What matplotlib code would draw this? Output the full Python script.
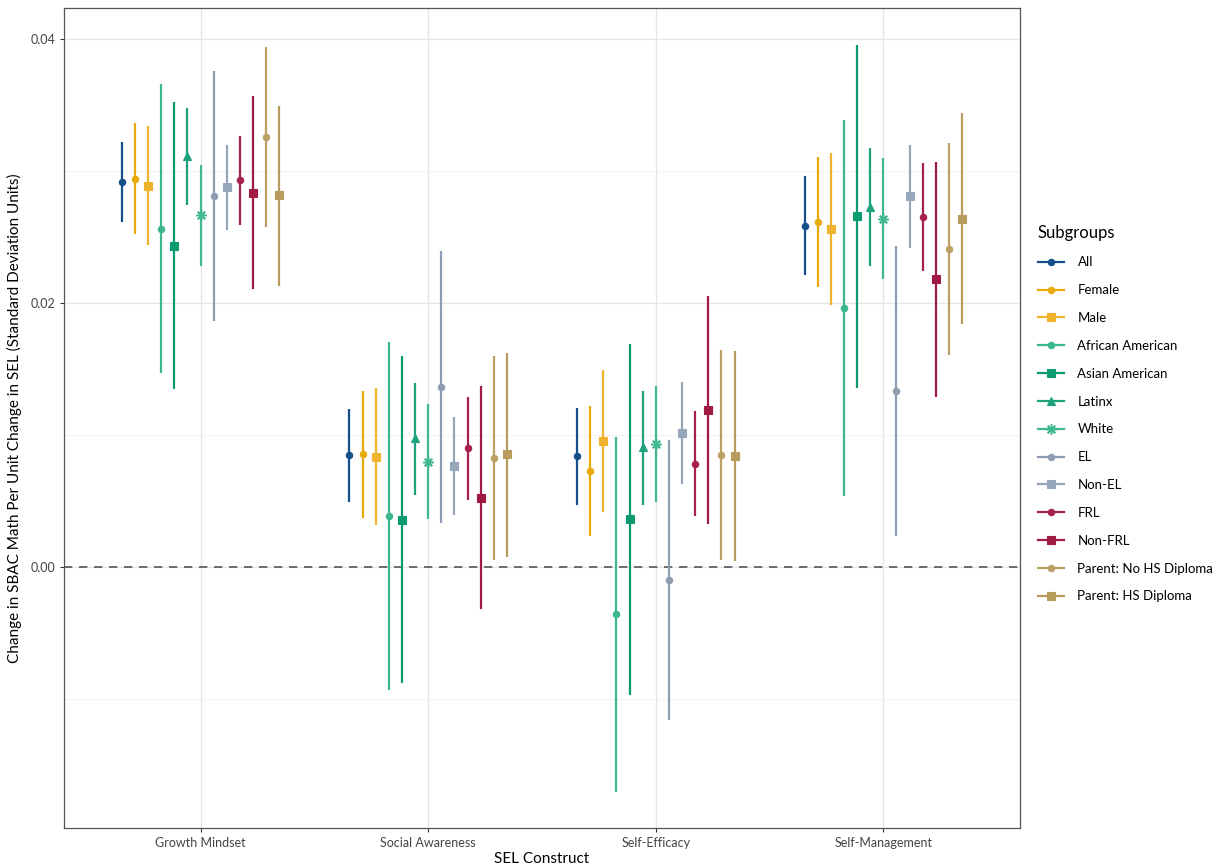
import numpy as np
import matplotlib
matplotlib.use("Agg")
import matplotlib.pyplot as plt
from matplotlib.lines import Line2D

plt.rcParams["font.family"] = ["Lato", "DejaVu Sans"]

# Data
constructs = ["Growth Mindset", "Social Awareness", "Self-Efficacy", "Self-Management"]
subgroups = ["All", "Female", "Male", "African American", "Asian American", "Latinx",
             "White", "EL", "Non-EL", "FRL", "Non-FRL", "Parent: No HS Diploma",
             "Parent: HS Diploma"]

# estimates per subgroup, one value per construct
est = {
    "All":                   [0.02917, 0.00848, 0.00842, 0.02588],
    "Female":                [0.02945, 0.00858, 0.00731, 0.02613],
    "Male":                  [0.02892, 0.00837, 0.00956, 0.02563],
    "African American":      [0.02565, 0.00387, -0.00357, 0.01966],
    "Asian American":        [0.02434, 0.00357, 0.00362, 0.02659],
    "Latinx":                [0.03114, 0.00977, 0.00909, 0.02727],
    "White":                 [0.02667, 0.00799, 0.00931, 0.02641],
    "EL":                    [0.02816, 0.01366, -0.00099, 0.01336],
    "Non-EL":                [0.02879, 0.00764, 0.01015, 0.02811],
    "FRL":                   [0.02932, 0.00901, 0.00782, 0.02657],
    "Non-FRL":               [0.02839, 0.00526, 0.01187, 0.02186],
    "Parent: No HS Diploma": [0.03259, 0.00827, 0.00848, 0.02414],
    "Parent: HS Diploma":    [0.02819, 0.00855, 0.00845, 0.02641],
}
lower = {
    "All":                   [0.02613, 0.00491, 0.00473, 0.02216],
    "Female":                [0.02522, 0.00372, 0.00238, 0.02120],
    "Male":                  [0.02439, 0.00316, 0.00417, 0.01989],
    "African American":      [0.01470, -0.00934, -0.01705, 0.00541],
    "Asian American":        [0.01349, -0.00883, -0.00971, 0.01356],
    "Latinx":                [0.02742, 0.00549, 0.00471, 0.02282],
    "White":                 [0.02282, 0.00362, 0.00491, 0.02181],
    "EL":                    [0.01867, 0.00336, -0.01161, 0.00238],
    "Non-EL":                [0.02555, 0.00392, 0.00630, 0.02416],
    "FRL":                   [0.02593, 0.00511, 0.00385, 0.02247],
    "Non-FRL":               [0.02108, -0.00319, 0.00324, 0.01290],
    "Parent: No HS Diploma": [0.02578, 0.00053, 0.00053, 0.01609],
    "Parent: HS Diploma":    [0.02133, 0.00078, 0.00046, 0.01842],
}
upper = {
    "All":                   [0.03223, 0.01199, 0.01204, 0.02963],
    "Female":                [0.03368, 0.01336, 0.01224, 0.03107],
    "Male":                  [0.03345, 0.01359, 0.01493, 0.03137],
    "African American":      [0.03659, 0.01708, 0.00989, 0.03393],
    "Asian American":        [0.03524, 0.01599, 0.01692, 0.03960],
    "Latinx":                [0.03479, 0.01397, 0.01336, 0.03175],
    "White":                 [0.03049, 0.01235, 0.01369, 0.03102],
    "EL":                    [0.03760, 0.02398, 0.00964, 0.02434],
    "Non-EL":                [0.03203, 0.01136, 0.01399, 0.03203],
    "FRL":                   [0.03271, 0.01288, 0.01179, 0.03064],
    "Non-FRL":               [0.03570, 0.01374, 0.02055, 0.03072],
    "Parent: No HS Diploma": [0.03942, 0.01599, 0.01642, 0.03213],
    "Parent: HS Diploma":    [0.03499, 0.01624, 0.01640, 0.03444],
}

colors = ["#16508c", "#e9a90a", "#f0b42c", "#3bb68e", "#0b9a72", "#1da27d",
          "#42b892", "#8d9db1", "#97a7bb", "#a6204a", "#a01a44", "#bba064", "#b89c5e"]
markers = ["o", "o", "s", "o", "s", "^", (8, 2, 0), "o", "s", "o", "s", "o", "s"]
sizes = {"o": 4.6, "s": 5.2, "^": 5.8}

fig = plt.figure(figsize=(12.2, 8.68), dpi=100)
ax = fig.add_axes([0.0525, 0.046, 0.7835, 0.945])

x = np.arange(1, len(constructs) + 1)
dodge = 0.75
n = len(subgroups)
handles = []
for i, g in enumerate(subgroups):
    xs = x + (i - (n - 1) / 2) * dodge / n
    m = markers[i]
    if isinstance(m, tuple):
        ms, mew = 7.5, 1.1
    else:
        ms, mew = sizes[m], 0.8
    ax.vlines(xs, lower[g], upper[g], color=colors[i], lw=1.6, zorder=3)
    ax.plot(xs, est[g], linestyle="none", marker=m, color=colors[i],
            markersize=ms, markeredgewidth=mew, zorder=4)
    handles.append(Line2D([0], [0], color=colors[i], lw=1.6, marker=m,
                          markersize=ms, markeredgewidth=mew))

ax.axhline(0, color="#555555", lw=1.2, ls=(0, (5, 4)), zorder=2)

ax.set_xlim(0.4, 4.6)
ax.set_ylim(-0.0198, 0.0424)
ax.set_xticks(x)
ax.set_xticklabels(constructs)
ax.set_yticks([0.0, 0.02, 0.04])
ax.set_yticklabels(["0.00", "0.02", "0.04"])
ax.set_yticks([-0.01, 0.01, 0.03], minor=True)
ax.grid(True, which="major", color="#e6e6e6", lw=1.0, zorder=0)
ax.grid(True, which="minor", axis="y", color="#f2f2f2", lw=0.8, zorder=0)
ax.set_axisbelow(True)
ax.tick_params(axis="both", which="major", labelsize=9, color="#333333",
               labelcolor="#444444", length=3)
ax.tick_params(axis="y", which="minor", length=0)
for s in ax.spines.values():
    s.set_color("#555555")
    s.set_linewidth(0.9)

ax.set_xlabel("SEL Construct", fontsize=11, labelpad=2)
ax.set_ylabel("Change in SBAC Math Per Unit Change in SEL (Standard Deviation Units)",
              fontsize=11, labelpad=6)

fig.legend(handles, subgroups, title="Subgroups", loc="upper left",
           bbox_to_anchor=(0.841, 0.755), frameon=False, fontsize=9.5,
           title_fontsize=12, labelspacing=1.2, handlelength=2.0,
           handletextpad=1.0, alignment="left")

fig.savefig("out.png", dpi=100)
